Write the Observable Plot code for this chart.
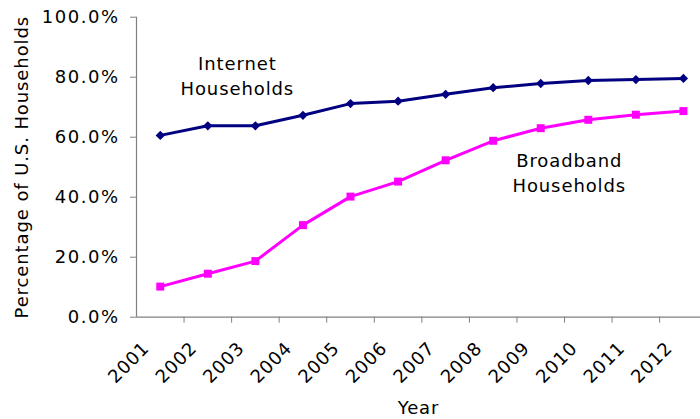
<!DOCTYPE html>
<html>
<head>
<meta charset="utf-8">
<script src="https://cdn.jsdelivr.net/npm/d3@7"></script>
<script src="https://cdn.jsdelivr.net/npm/@observablehq/plot@0.6"></script>
<style>
  body { margin: 0; background: #fff; }
  #chart svg text { letter-spacing: 0.9px; }
  #chart svg .y-labels text { letter-spacing: 1.5px; }
</style>
</head>
<body>
<div id="chart"></div>
<script>
// Share of U.S. households with internet access and with broadband, 2001–2012
const years = [2001, 2002, 2003, 2004, 2005, 2006, 2007, 2008, 2009, 2010, 2011, 2012];
const internetPct = [60.6, 63.8, 63.8, 67.3, 71.2, 72.0, 74.3, 76.5, 77.9, 78.9, 79.2, 79.6];
const broadbandPct = [10.2, 14.5, 18.7, 30.7, 40.2, 45.2, 52.3, 58.8, 63.0, 65.8, 67.5, 68.7];
const yTicks = [0, 20, 40, 60, 80, 100];
const seriesLabels = ["Internet\nHouseholds", "Broadband\nHouseholds"];
const yTitle = "Percentage of U.S. Households";
const xTitle = "Year";

const internet = years.map((year, i) => ({year, pct: internetPct[i]}));
const broadband = years.map((year, i) => ({year, pct: broadbandPct[i]}));
// category boundaries: tick marks sit between the years
const boundaries = years.map(y => y + 0.5);

const axisGray = "#808080";
const navy = "#000080";
const magenta = "#ff00ff";

const chart = Plot.plot({
  width: 700,
  height: 419,
  marginLeft: 136,
  marginRight: 0,
  marginTop: 16.7,
  marginBottom: 102.3,
  style: {fontFamily: '"DejaVu Sans", Verdana, sans-serif', fontSize: "18px", background: "#fff", color: "#000"},
  x: {domain: [years[0] - 0.5, years[years.length - 1] + 0.5], range: [136, 706.7], axis: null},
  y: {domain: [0, 100], axis: null},
  marks: [
    // y axis: tick marks, then labels
    Plot.axisY({ticks: yTicks, tickSize: 6, tickFormat: () => "", color: axisGray, label: null}),
    Plot.axisY({ticks: yTicks, tickSize: 0, tickPadding: 17, tickFormat: d => d.toFixed(1) + "%",
      color: "#000", label: null, className: "y-labels"}),
    // x axis tick marks between categories
    Plot.axisX({ticks: boundaries, tickSize: 6, tickFormat: () => "", color: axisGray, label: null}),
    Plot.ruleX([years[0] - 0.5], {stroke: axisGray, strokeWidth: 1.2}),
    Plot.ruleY([0], {stroke: axisGray, strokeWidth: 1.2}),
    // rotated year labels
    Plot.text(years, {x: d => d, frameAnchor: "bottom", text: d => String(d), rotate: -45,
      textAnchor: "end", lineAnchor: "middle", dx: -14, dy: 28, fill: "#000"}),
    // series
    Plot.line(internet, {x: "year", y: "pct", stroke: navy, strokeWidth: 3}),
    Plot.dot(internet, {x: "year", y: "pct", symbol: "diamond2", r: 4.2, fill: navy, stroke: "none"}),
    Plot.line(broadband, {x: "year", y: "pct", stroke: magenta, strokeWidth: 3}),
    Plot.dot(broadband, {x: "year", y: "pct", symbol: "square", r: 4.5, fill: magenta, stroke: "none"}),
    // series annotations
    Plot.text([seriesLabels[0]], {x: 2002.62, y: 80.8, lineHeight: 1.4, fill: "#000"}),
    Plot.text([seriesLabels[1]], {x: 2009.6, y: 48.5, lineHeight: 1.4, fill: "#000"}),
    // axis titles
    Plot.text([yTitle], {frameAnchor: "left", textAnchor: "middle", rotate: -90, dx: -114, fill: "#000"}),
    Plot.text([xTitle], {frameAnchor: "bottom", dy: 97, fill: "#000"})
  ]
});

document.getElementById("chart").append(chart);
</script>
</body>
</html>
